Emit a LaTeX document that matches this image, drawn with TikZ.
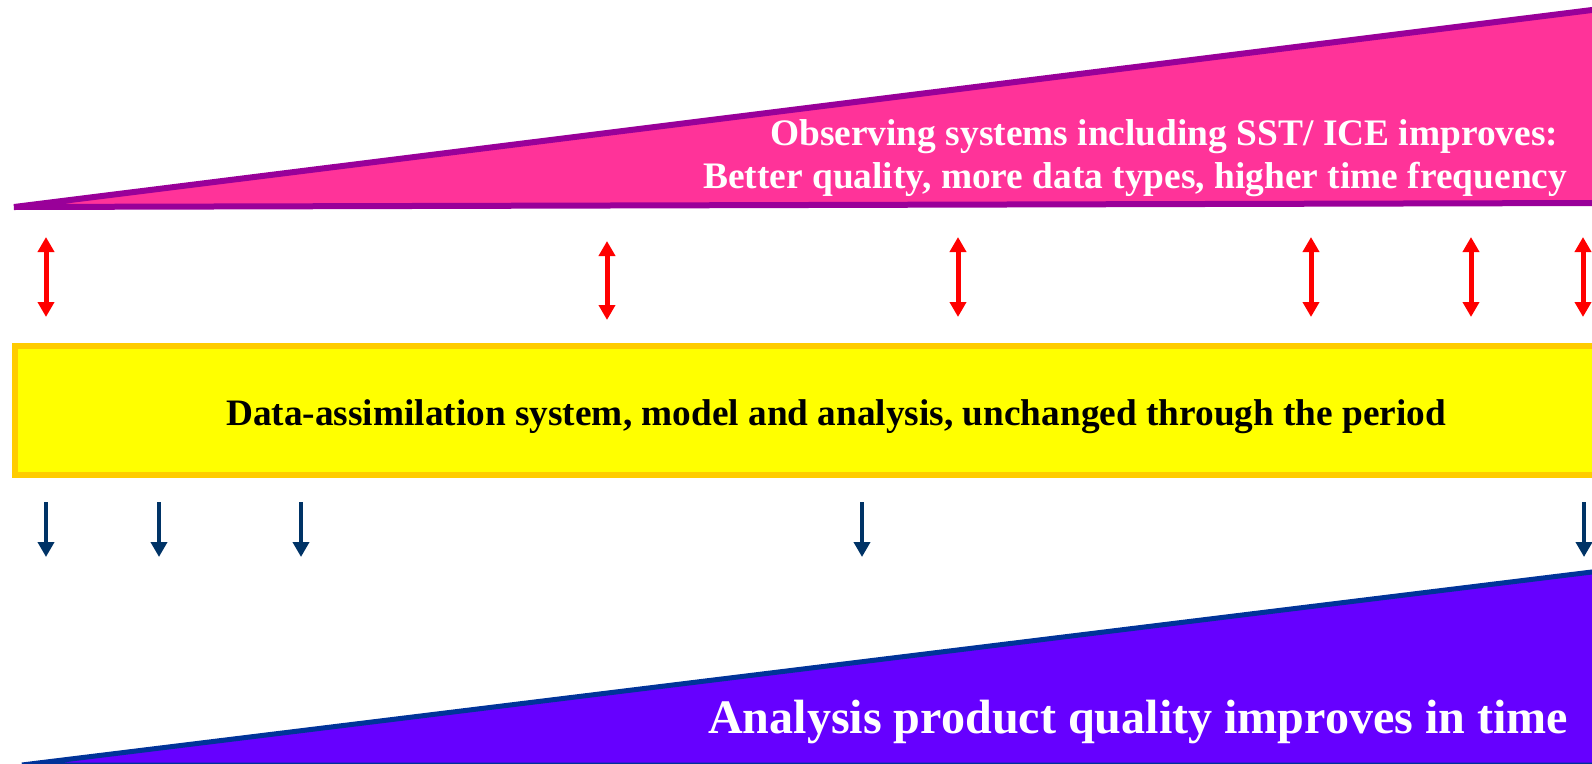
\documentclass[tikz,border=0pt]{standalone}
\usepackage{fontspec}
\setmainfont{Liberation Serif}
\usetikzlibrary{arrows.meta}
\definecolor{obsfill}{HTML}{FF3399}
\definecolor{obsline}{HTML}{990099}
\definecolor{dafill}{HTML}{FFFF00}
\definecolor{daline}{HTML}{FFCC00}
\definecolor{anfill}{HTML}{6600FF}
\definecolor{anline}{HTML}{003399}
\definecolor{downarrow}{HTML}{003366}
\tikzset{
  redarrow/.style={draw=red, line width=5pt, {Triangle[width=16pt,length=15pt]}-{Triangle[width=16pt,length=15pt]}},
  bluearrow/.style={draw=downarrow, line width=4.5pt, -{Triangle[width=16pt,length=15pt]}},
  whitetext/.style={text=white, font=\fontsize{37.4}{43}\selectfont\bfseries, inner sep=0pt, anchor=base west},
}
\begin{document}
\begin{tikzpicture}[x=1pt,y=-1pt]
\useasboundingbox (0,0) rectangle (1592,763);
\clip (0,0) rectangle (1592,763);
% top wedge
\draw[fill=obsfill, draw=obsline, line width=6pt, line join=miter] (14,207) -- (1600,9) -- (1600,203) -- cycle;
\node[whitetext] (obs1) at (770,145) {Observing systems including SST/ ICE improves:};
\node[whitetext] (obs2) at (703,188) {Better quality, more data types, higher time frequency};
% middle box
\node[draw=daline, fill=dafill, line width=6pt, minimum width=1600pt, minimum height=129pt, anchor=north west, inner sep=0pt] (da) at (12,343) {};
\node[font=\fontsize{37.3}{43}\selectfont\bfseries, inner sep=0pt, anchor=base west] (datext) at (226,425) {Data-assimilation system, model and analysis, unchanged through the period};
% bottom wedge
\draw[fill=anfill, draw=anline, line width=5pt] (22,765) -- (1600,571) -- (1600,765) -- cycle;
\node[text=white, font=\fontsize{48.1}{56}\selectfont\bfseries, inner sep=0pt, anchor=base west] (antext) at (708,733) {Analysis product quality improves in time};
% red double arrows
\foreach \i/\x/\t/\b in {1/46/237/317, 2/607/241/320, 3/958/237/317, 4/1311/237/317, 5/1471/237/317, 6/1583/237/317}{
  \coordinate (rt\i) at (\x,\t);
  \coordinate (rb\i) at (\x,\b);
  \draw[redarrow] (rt\i) -- (rb\i);
}
% dark blue down arrows
\foreach \i/\x in {1/46, 2/159, 3/301, 4/862, 5/1584}{
  \coordinate (bt\i) at (\x,502);
  \coordinate (bb\i) at (\x,557);
  \draw[bluearrow] (bt\i) -- (bb\i);
}
\end{tikzpicture}
\end{document}
